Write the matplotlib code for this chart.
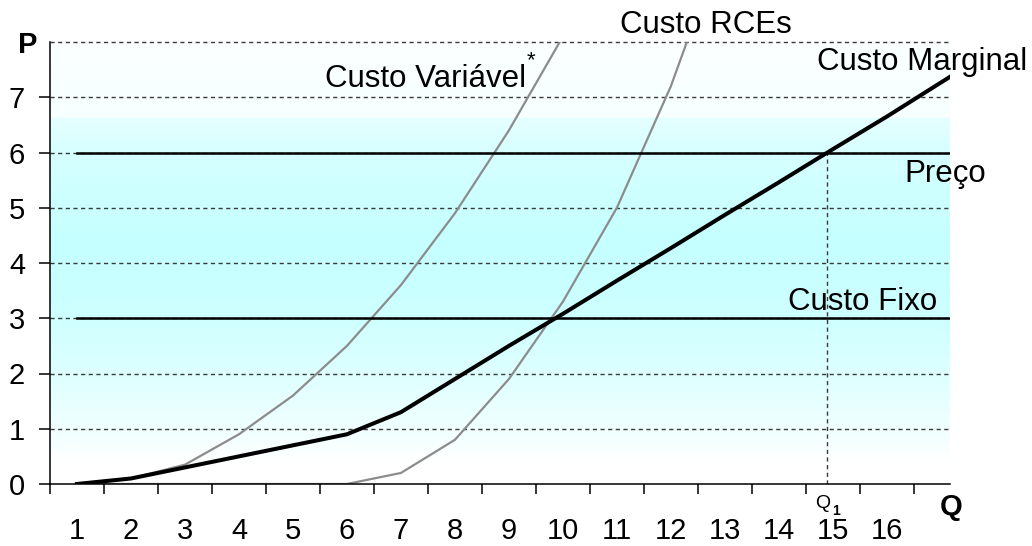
import numpy as np
import matplotlib
matplotlib.use("Agg")
import matplotlib.pyplot as plt

# ---- data ----
categories = list(range(1, 17))
q_mc = [1, 2, 3, 4, 5, 6, 7, 8, 9, 10, 11, 12, 13, 14, 15, 16, 17.17]
custo_marginal = [0, 0.1, 0.3, 0.5, 0.7, 0.9, 1.3, 1.9, 2.5, 3.08, 3.68, 4.27, 4.87, 5.46, 6.06, 6.65, 7.37]
q_var = [1, 2, 3, 4, 5, 6, 7, 8, 9, 10]
custo_variavel = [0, 0.1, 0.35, 0.9, 1.6, 2.5, 3.6, 4.9, 6.4, 8.1]
q_rce = [1, 2, 3, 4, 5, 6, 7, 8, 9, 10, 11, 12, 13]
custo_rce = [0, 0, 0, 0, 0, 0, 0.2, 0.8, 1.9, 3.3, 5.0, 7.2, 9.9]
q_flat = [1, 17.17]
preco = [6, 6]
custo_fixo = [3, 3]
y_labels = ["0", "1", "2", "3", "4", "5", "6", "7"]

plt.rcParams['font.family'] = ['Liberation Sans', 'DejaVu Sans']

fig = plt.figure(figsize=(10.32, 5.46), dpi=100)
fig.patch.set_facecolor('white')
ax = fig.add_axes([50 / 1032, (546 - 484) / 546, 900 / 1032, 442 / 546])
ax.set_facecolor('none')
XMIN, XMAX = 0.5, 17.17
ax.set_xlim(XMIN, XMAX)
ax.set_ylim(0, 8)

# background gradient
ys = np.linspace(0, 8, 800)
stops_y = [0.0, 0.4, 1.0, 2.0, 3.0, 4.0, 4.6, 6.0, 6.63, 6.64, 8.0]
stops_s = [0.0, 0.0, 0.06, 0.13, 0.19, 0.22, 0.22, 0.16, 0.10, 0.03, 0.015]
sat = np.interp(ys, stops_y, stops_s)
img = np.ones((len(ys), 1, 3))
img[:, 0, 0] = 1 - sat
ax.imshow(img, extent=(XMIN, XMAX, 0, 8), origin='lower', aspect='auto', zorder=0,
          interpolation='bilinear')

# grid lines
for yv in range(1, 9):
    ax.plot([XMIN, XMAX - 0.03], [yv, yv], color='#3a3a3a', lw=1.0,
            linestyle=(0, (3, 2.5)), zorder=1, clip_on=False)

gray = '#8c8c8c'
ax.plot(q_var, custo_variavel, color=gray, lw=1.6, zorder=2)
ax.plot(q_rce, custo_rce, color=gray, lw=1.6, zorder=2)
ax.plot(q_flat, preco, color='black', lw=1.8, zorder=3)
ax.plot(q_flat, custo_fixo, color='black', lw=1.8, zorder=3)
ax.plot(q_mc, custo_marginal, color='black', lw=2.9, zorder=4, solid_joinstyle='miter')

q1 = float(np.interp(preco[0], custo_marginal, q_mc))
ax.plot([q1, q1], [0, preco[0]], color='#3a3a3a', lw=1.0, linestyle=(0, (3, 2.5)), zorder=1)

# axes styling
for s in ['top', 'right']:
    ax.spines[s].set_visible(False)
for s in ['left', 'bottom']:
    ax.spines[s].set_linewidth(1.1)
    ax.spines[s].set_zorder(5)

ax.set_yticks(range(8))
ax.set_yticklabels(y_labels, fontsize=21)
ax.tick_params(axis='y', direction='out', length=8, width=1.1, pad=10)

bounds = [c - 0.5 for c in categories] + [categories[-1] + 0.5]
ax.set_xticks(bounds)
ax.set_xticklabels([''] * len(bounds))
ax.set_xticks(categories, minor=True)
ax.set_xticklabels([str(c) for c in categories], minor=True, fontsize=21)
ax.tick_params(axis='x', which='major', direction='out', length=7, width=1.1)
ax.tick_params(axis='x', which='minor', length=0, pad=24)

# texts
fs = 22.5
ax.text(5.59, 7.19, "Custo Variável", fontsize=fs, ha='left', va='baseline', clip_on=False)
ax.text(9.33, 7.57, "*", fontsize=16, ha='left', va='baseline', clip_on=False)
ax.text(11.06, 8.16, "Custo RCEs", fontsize=fs, ha='left', va='baseline', clip_on=False)
ax.text(14.7, 7.49, "Custo Marginal", fontsize=fs, ha='left', va='baseline', clip_on=False)
ax.text(16.33, 5.47, "Preço", fontsize=fs, ha='left', va='baseline', clip_on=False)
ax.text(14.17, 3.15, "Custo Fixo", fontsize=fs, ha='left', va='baseline', clip_on=False)
ax.text(-0.09, 7.80, "P", fontsize=21, fontweight='bold', ha='left', va='baseline', clip_on=False)
ax.text(16.98, -0.56, "Q", fontsize=21, fontweight='bold', ha='left', va='baseline', clip_on=False)
ax.text(14.67, -0.43, "Q", fontsize=14, ha='left', va='baseline', clip_on=False)
ax.text(14.98, -0.56, "1", fontsize=10, fontweight='bold', ha='left', va='baseline', clip_on=False)

fig.savefig("out.png", dpi=100)
